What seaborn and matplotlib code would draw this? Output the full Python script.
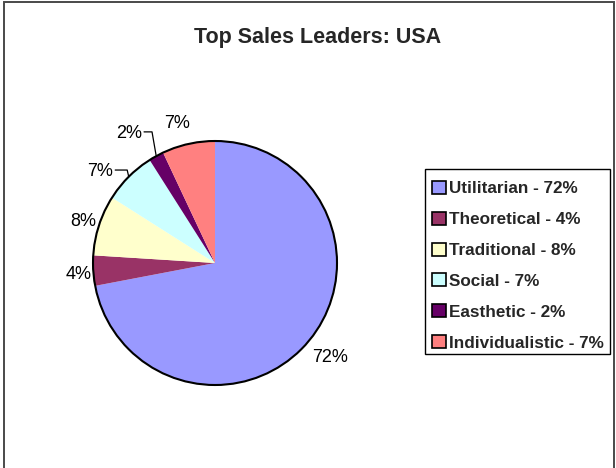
import numpy as np
import matplotlib
matplotlib.use("Agg")
import matplotlib.pyplot as plt
from matplotlib.patches import Circle, Rectangle
import seaborn as sns

# Sales leader value profiles (percent of leaders)
categories = ["Utilitarian", "Theoretical", "Traditional", "Social", "Easthetic", "Individualistic"]
shares = [72, 4, 8, 7, 2, 7]
slice_colors = ["#9999FF", "#993366", "#FFFFCC", "#CCFFFF", "#660066", "#FF8080"]
title = "Top Sales Leaders: USA"

sns.set_theme(style="white")
plt.rcParams["font.family"] = ["Liberation Sans", "DejaVu Sans"]

W, H = 616, 468
fig = plt.figure(figsize=(W / 100, H / 100), dpi=100)
ax = fig.add_axes([0, 0, 1, 1])

# chart-area border
ax.add_patch(Rectangle((4, -10), 610, 476, fill=False, edgecolor="#4a4a4a", lw=1.4))

palette = sns.color_palette(slice_colors)
cx, cy, r = 215, 205, 122
wedges, _ = ax.pie(shares, colors=palette, startangle=90, counterclock=False,
                   center=(cx, cy), radius=r, frame=True,
                   wedgeprops=dict(linewidth=0))
ax.set_xlim(0, W)
ax.set_ylim(0, H)
ax.set_aspect("equal")
ax.axis("off")
ax.add_patch(Circle((cx, cy), r, fill=False, edgecolor="black", lw=1.5, zorder=5))

# label placement: radial distance (x radius) and angular nudge in degrees
label_dist = [1.21, 1.12, 1.14, 1.13, 1.23, 1.20]
label_nudge = [0.7, 0.2, -0.4, 2.6, 0.3, 2.4]
leader = [False, False, False, True, True, False]
leader_len = [0, 0, 0, 12, 8, 0]

for w, val, d, dn, has_leader, ll in zip(wedges, shares, label_dist, label_nudge, leader, leader_len):
    mid = np.deg2rad((w.theta1 + w.theta2) / 2)
    ang = mid + np.deg2rad(dn)
    tx = cx + d * r * np.cos(ang)
    ty = cy + d * r * np.sin(ang)
    txt = f"{val}%"
    if has_leader:
        ax.text(tx, ty - 1.5, txt, ha="right", va="center", fontsize=13, color="black")
        ex = cx + r * np.cos(mid)
        ey = cy + r * np.sin(mid)
        ax.plot([tx + 2, tx + 2 + ll, ex], [ty, ty, ey], color="black", lw=0.9, zorder=6)
    else:
        ax.text(tx, ty - 2, txt, ha="center", va="center", fontsize=13, color="black")

ax.text(318, H - 43, title, ha="center", va="baseline", fontsize=15.5, fontweight="bold")

# legend box outline
ax.add_patch(Rectangle((425, H - 354), 185, 185, fill=False, edgecolor="black", lw=1.0, zorder=7))

leg_labels = [f"{c} - {v}%" for c, v in zip(categories, shares)]
leg = ax.legend(wedges, leg_labels, loc="upper left",
                bbox_to_anchor=(425 / W, 1 - 174 / H), bbox_transform=fig.transFigure,
                borderaxespad=0, frameon=False,
                prop=dict(weight="bold", size=12.3),
                handlelength=0.8, handleheight=0.8, handletextpad=0.2,
                labelspacing=0.9, borderpad=0.4)
for h in leg.legend_handles:
    h.set_edgecolor("black")
    h.set_linewidth(1.2)

fig.savefig("out.png", dpi=100, facecolor="white")
